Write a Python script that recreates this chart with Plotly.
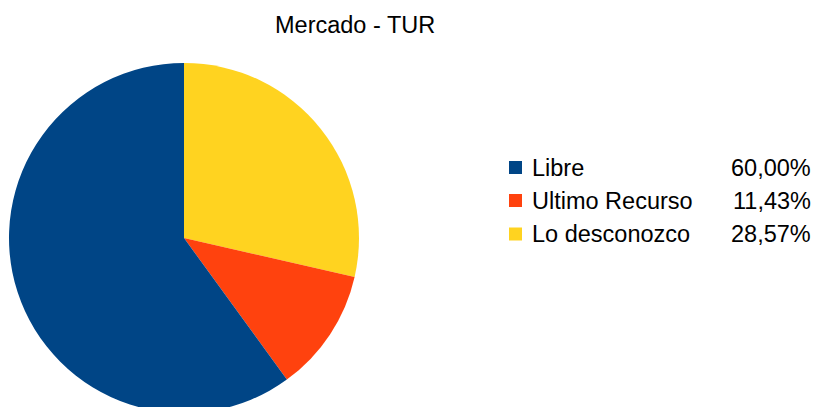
import plotly.graph_objects as go

labels = ["Libre", "Ultimo Recurso", "Lo desconozco"]
values = [60.00, 11.43, 28.57]
colors = ["#004586", "#ff420e", "#ffd320"]
title = "Mercado - TUR"

W, H = 819, 420
FONT = "Liberation Sans"
FS = 23.5

# pie geometry in pixels (centre 184,238 radius 175)
cx, cy, r = 184, 238, 175
dom_x = [(cx - r) / W, (cx + r) / W]
dom_y = [(H - (cy + r)) / H, (H - (cy - r)) / H]

# slices run counter-clockwise from 12 o'clock in legend order,
# i.e. clockwise in reversed order
fig = go.Figure(go.Pie(
    labels=labels[::-1], values=values[::-1], sort=False, direction="clockwise",
    rotation=0, marker=dict(colors=colors[::-1], line=dict(width=0)),
    textinfo="none", hoverinfo="label+percent", showlegend=False,
    domain=dict(x=dom_x, y=dom_y),
))

def py(ypix):
    return 1 - ypix / H

annotations = [dict(text=title, x=355 / W, y=py(25), xref="paper", yref="paper",
                    showarrow=False, xanchor="center", yanchor="middle",
                    font=dict(family=FONT, size=FS, color="#000000"))]
shapes = []
row_y = [167.5, 200.5, 234]
total = sum(values)
for lab, val, col, yy in zip(labels, values, colors, row_y):
    shapes.append(dict(type="rect", xref="paper", yref="paper",
                       x0=509 / W, x1=522 / W, y0=py(yy + 6.5), y1=py(yy - 6.5),
                       fillcolor=col, line=dict(width=0)))
    annotations.append(dict(text=lab, x=530 / W, y=py(yy), xref="paper", yref="paper",
                            showarrow=False, xanchor="left", yanchor="middle",
                            font=dict(family=FONT, size=FS, color="#000000")))
    pct = f"{val / total * 100:.2f}".replace(".", ",") + "%"
    annotations.append(dict(text=pct, x=813 / W, y=py(yy), xref="paper", yref="paper",
                            showarrow=False, xanchor="right", yanchor="middle",
                            font=dict(family=FONT, size=FS, color="#000000")))

fig.update_layout(width=W, height=H, margin=dict(l=0, r=0, t=0, b=0),
                  paper_bgcolor="white", plot_bgcolor="white",
                  annotations=annotations, shapes=shapes, showlegend=False)

fig.write_html("out.html", config={"displayModeBar": False},
               post_script="document.body.style.margin='0';document.body.style.overflow='hidden';document.documentElement.style.overflow='hidden';")
